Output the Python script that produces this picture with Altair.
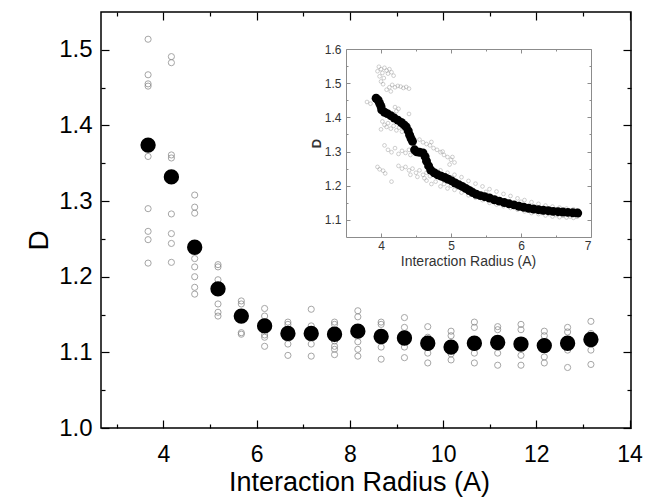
import altair as alt
import pandas as pd

# ---------------- data ----------------
main_x = [3.67, 4.17, 4.67, 5.17, 5.67, 6.17, 6.67, 7.17, 7.67, 8.17,
          8.67, 9.17, 9.67, 10.17, 10.67, 11.17, 11.67, 12.17, 12.67, 13.17]
main_mean = [1.374, 1.332, 1.239, 1.184, 1.148, 1.135, 1.125, 1.125, 1.124, 1.128,
             1.121, 1.119, 1.112, 1.107, 1.112, 1.113, 1.111, 1.109, 1.112, 1.117]
main_open = [
    [1.514, 1.467, 1.455, 1.452, 1.359, 1.290, 1.260, 1.249, 1.218],
    [1.491, 1.483, 1.361, 1.357, 1.283, 1.257, 1.244, 1.219],
    [1.308, 1.292, 1.284, 1.224, 1.213, 1.200, 1.186, 1.177],
    [1.216, 1.213, 1.196, 1.164, 1.153, 1.148],
    [1.168, 1.164, 1.126, 1.124],
    [1.158, 1.148, 1.123, 1.120, 1.108],
    [1.140, 1.137, 1.130, 1.111, 1.096],
    [1.157, 1.135, 1.111, 1.095],
    [1.140, 1.137, 1.115, 1.108, 1.104, 1.097],
    [1.155, 1.147, 1.114, 1.104, 1.095],
    [1.140, 1.137, 1.107, 1.091],
    [1.146, 1.133, 1.107, 1.093],
    [1.134, 1.120, 1.099, 1.086],
    [1.128, 1.122, 1.098, 1.090],
    [1.140, 1.133, 1.099, 1.086],
    [1.134, 1.130, 1.099, 1.083],
    [1.137, 1.130, 1.096, 1.083],
    [1.128, 1.122, 1.094, 1.086],
    [1.133, 1.127, 1.103, 1.080],
    [1.141, 1.125, 1.103, 1.084],
]

inset_mean_x = [3.93, 3.96, 3.98, 4.00, 4.01, 4.05, 4.09, 4.14, 4.19, 4.24, 4.29, 4.33, 4.36,
                4.39, 4.41, 4.43, 4.45, 4.48, 4.51, 4.55, 4.60, 4.63, 4.65, 4.68, 4.71, 4.76,
                4.81, 4.86, 4.91, 4.96, 5.01, 5.06, 5.11, 5.16, 5.21, 5.26, 5.31, 5.36, 5.42,
                5.48, 5.55, 5.62, 5.69, 5.76, 5.83, 5.90, 5.97, 6.04, 6.11, 6.18, 6.25, 6.32,
                6.39, 6.46, 6.53, 6.60, 6.67, 6.74, 6.81]
inset_mean_y = [1.456, 1.450, 1.441, 1.432, 1.422, 1.415, 1.411, 1.405, 1.398, 1.392, 1.385,
                1.378, 1.372, 1.360, 1.348, 1.338, 1.330, 1.305, 1.299, 1.298, 1.296, 1.285,
                1.272, 1.258, 1.246, 1.238, 1.232, 1.228, 1.224, 1.219, 1.214, 1.208, 1.203,
                1.198, 1.192, 1.186, 1.180, 1.175, 1.171, 1.168, 1.164, 1.159, 1.155, 1.151,
                1.147, 1.144, 1.140, 1.137, 1.134, 1.132, 1.130, 1.128, 1.127, 1.125, 1.124,
                1.123, 1.122, 1.121, 1.120]

inset_open_x = [
    3.95, 3.97, 4.00, 4.02, 4.05, 4.08, 4.10, 4.12, 4.15, 3.98, 4.04, 4.18, 4.00,
    4.08, 4.12, 4.16, 4.20, 4.24, 4.28, 4.32, 4.36, 4.40, 4.14, 4.03,
    4.20, 4.25, 4.22, 3.80, 3.85, 4.40,
    4.02, 4.05, 4.08, 4.10, 4.14, 4.18, 4.22, 4.26, 4.30, 4.34, 4.38, 4.00,
    4.55, 4.60, 4.65, 4.70, 4.75, 4.80, 4.85, 4.90, 4.95, 5.00, 5.05, 4.72, 4.88, 5.02, 4.98,
    4.10, 4.15, 4.20, 4.25, 4.30, 4.35, 4.42, 4.40, 4.48, 4.05,
    3.95, 3.98, 4.03, 4.06, 4.15,
    4.25, 4.30, 4.35, 4.40, 4.45, 4.50, 4.55, 4.60, 4.65, 4.42, 4.52, 4.62, 4.70,
    4.65, 4.72, 4.78, 4.85, 4.90, 4.95, 5.00, 5.05, 5.10, 5.15, 5.20, 5.25, 5.30, 5.35,
    5.40, 5.45, 5.50, 5.55, 5.60, 5.65, 5.70, 5.75, 5.80, 5.85, 5.90, 5.95, 6.00, 6.05,
    6.10, 6.15, 6.20, 6.25, 6.30, 6.35, 6.40, 6.45, 6.50, 6.55, 6.60, 6.65, 6.70, 6.75,
    6.80, 4.90, 5.10, 5.30,
    4.85, 4.95, 5.05, 5.15, 5.25, 5.35, 5.45, 5.55, 5.65, 5.75, 5.85, 5.95, 6.05, 6.15,
    6.25, 6.35, 6.45, 6.55, 6.65, 6.75, 6.80, 5.00, 5.50, 6.00, 6.50,
]
inset_open_y = [
    1.535, 1.548, 1.541, 1.530, 1.545, 1.537, 1.528, 1.541, 1.532, 1.520, 1.515, 1.522, 1.505,
    1.481, 1.488, 1.495, 1.488, 1.492, 1.490, 1.486, 1.489, 1.484, 1.476, 1.497,
    1.430, 1.425, 1.418, 1.445, 1.440, 1.410,
    1.388, 1.378, 1.372, 1.383, 1.367, 1.375, 1.362, 1.370, 1.358, 1.366, 1.378, 1.365,
    1.335, 1.327, 1.322, 1.318, 1.310, 1.305, 1.298, 1.290, 1.284, 1.276, 1.268, 1.328, 1.300, 1.284, 1.262,
    1.305, 1.298, 1.310, 1.293, 1.302, 1.296, 1.290, 1.305, 1.312, 1.318,
    1.255, 1.248, 1.244, 1.236, 1.212,
    1.258, 1.250, 1.255, 1.245, 1.250, 1.238, 1.245, 1.232, 1.238, 1.232, 1.226, 1.222, 1.228,
    1.215, 1.205, 1.212, 1.198, 1.205, 1.192, 1.200, 1.188, 1.194, 1.180, 1.186, 1.172, 1.178, 1.165,
    1.170, 1.158, 1.162, 1.150, 1.155, 1.145, 1.150, 1.140, 1.145, 1.135, 1.138, 1.130, 1.134, 1.125,
    1.130, 1.120, 1.125, 1.117, 1.120, 1.113, 1.117, 1.110, 1.114, 1.108, 1.112, 1.107, 1.110, 1.106,
    1.109, 1.215, 1.205, 1.190,
    1.245, 1.238, 1.232, 1.225, 1.214, 1.206, 1.198, 1.190, 1.183, 1.176, 1.170, 1.163, 1.158, 1.152,
    1.147, 1.142, 1.139, 1.136, 1.133, 1.131, 1.128, 1.225, 1.182, 1.153, 1.131,
]

# axis domains and tick values
main_x_domain = [2.66, 14.03]
main_y_domain = [1.0, 1.55]
main_x_labels = [4, 6, 8, 10, 12, 14]
main_x_minor = [3, 5, 7, 9, 11, 13]
main_y_labels = [1.0, 1.1, 1.2, 1.3, 1.4, 1.5]
main_y_minor = [1.05, 1.15, 1.25, 1.35, 1.45]
ins_x_domain = [3.5, 7.0]
ins_y_domain = [1.05, 1.6]
ins_x_labels = [4, 5, 6, 7]
ins_x_minor = [4.5, 5.5, 6.5]
ins_y_labels = [1.1, 1.2, 1.3, 1.4, 1.5, 1.6]
ins_y_minor = [1.1, 1.15, 1.2, 1.25, 1.3, 1.35, 1.4, 1.45, 1.5, 1.55]

# ---------------- layout ----------------
W, H = 530, 416
INS_LEFT, INS_RIGHT, INS_TOP, INS_BOTTOM = 245, 490, 37, 225
FONT = "Liberation Sans"

open_rows = [{"x": xv, "D": d} for xv, grp in zip(main_x, main_open) for d in grp]
df_open = pd.DataFrame(open_rows)
df_mean = pd.DataFrame({"x": main_x, "D": main_mean})
df_iopen = pd.DataFrame({"x": inset_open_x, "D": inset_open_y})
df_imean = pd.DataFrame({"x": inset_mean_x, "D": inset_mean_y})


def mx():
    return alt.Scale(domain=main_x_domain, nice=False, zero=False)


def my():
    return alt.Scale(domain=main_y_domain, nice=False, zero=False)


def ix():
    return alt.Scale(domain=ins_x_domain, range=[INS_LEFT, INS_RIGHT], nice=False, zero=False)


def iy():
    return alt.Scale(domain=ins_y_domain, range=[INS_BOTTOM, INS_TOP], nice=False, zero=False)


def tick_axis(orient, offset, size, values, color="black", width=1.2):
    return alt.Axis(orient=orient, offset=offset, tickSize=size, values=values,
                    labels=False, domain=False, ticks=True, grid=False, title=None,
                    tickColor=color, tickWidth=width)


def axis_layer(data, xs, ys, xaxis, yaxis):
    return alt.Chart(data).mark_point(opacity=0).encode(
        x=alt.X("x:Q", scale=xs, axis=xaxis),
        y=alt.Y("D:Q", scale=ys, axis=yaxis),
    )


# main open circles with labelled axes
main_open_layer = alt.Chart(df_open).mark_point(
    shape="circle", filled=False, size=38, stroke="#808080", strokeWidth=1
).encode(
    x=alt.X("x:Q", scale=mx(), axis=alt.Axis(
        orient="bottom", values=main_x_labels, format="d", ticks=False, domain=False,
        grid=False, labelFontSize=23, labelFont=FONT, labelColor="black", labelPadding=15,
        title="Interaction Radius (A)", titleFont=FONT, titleFontSize=27,
        titleFontWeight="normal", titleColor="black", titleX=258, titleY=62,
        titleAlign="center", titleBaseline="alphabetic")),
    y=alt.Y("D:Q", scale=my(), axis=alt.Axis(
        orient="left", values=main_y_labels, format=".1f", ticks=False, domain=False,
        grid=False, labelFontSize=24, labelFont=FONT, labelColor="black", labelPadding=9,
        title="D", titleFont=FONT, titleFontSize=28, titleFontWeight="normal",
        titleColor="black", titleX=-62, titleY=228, titleAngle=270,
        titleAlign="center", titleBaseline="middle")),
)

main_mean_layer = alt.Chart(df_mean).mark_point(
    shape="circle", filled=True, size=235, color="black", opacity=1
).encode(
    x=alt.X("x:Q", scale=mx(), axis=None),
    y=alt.Y("D:Q", scale=my(), axis=None),
)

main_ticks = [
    axis_layer(df_mean, mx(), my(), tick_axis("bottom", -8, 8, main_x_labels),
               tick_axis("left", -8, 8, main_y_labels)),
    axis_layer(df_mean, mx(), my(), tick_axis("bottom", -4, 4, main_x_minor),
               tick_axis("left", -4, 4, main_y_minor)),
    axis_layer(df_mean, mx(), my(), tick_axis("top", -8, 8, main_x_labels),
               tick_axis("right", -8, 8, main_y_labels)),
    axis_layer(df_mean, mx(), my(), tick_axis("top", -4, 4, main_x_minor),
               tick_axis("right", -4, 4, main_y_minor)),
]

GRAY = "#8c8c8c"
ins_open_layer = alt.Chart(df_iopen).mark_point(
    shape="circle", filled=False, size=14, stroke="#8f8f8f", strokeWidth=0.6
).encode(
    x=alt.X("x:Q", scale=ix(), axis=alt.Axis(
        orient="bottom", offset=-(H - INS_BOTTOM), values=ins_x_labels, format="d",
        ticks=False, domain=True, domainColor=GRAY, domainWidth=1, grid=False,
        labelFontSize=12, labelFont=FONT, labelColor="#333333", labelPadding=3,
        title="Interaction Radius (A)", titleFont=FONT, titleFontSize=14,
        titleFontWeight="normal", titleColor="#333333", titleX=367, titleY=28,
        titleAlign="center", titleBaseline="alphabetic")),
    y=alt.Y("D:Q", scale=iy(), axis=alt.Axis(
        orient="left", offset=-INS_LEFT, values=ins_y_labels, format=".1f",
        ticks=False, domain=True, domainColor=GRAY, domainWidth=1, grid=False,
        labelFontSize=12, labelFont=FONT, labelColor="#333333", labelPadding=5,
        title="D", titleFont=FONT, titleFontSize=13, titleFontWeight="bold",
        titleColor="#333333", titleX=-30, titleY=131, titleAngle=270,
        titleAlign="center", titleBaseline="middle")),
)

ins_mean_layer = alt.Chart(df_imean).mark_point(
    shape="circle", filled=True, size=80, color="black", opacity=1
).encode(
    x=alt.X("x:Q", scale=ix(), axis=None),
    y=alt.Y("D:Q", scale=iy(), axis=None),
)

ib = H - INS_BOTTOM
ins_frame = [
    axis_layer(df_imean, ix(), iy(),
               tick_axis("bottom", -(ib + 4), 4, ins_x_labels, GRAY, 1),
               tick_axis("left", -(INS_LEFT + 4), 4, ins_y_labels, GRAY, 1)),
    axis_layer(df_imean, ix(), iy(),
               tick_axis("bottom", -(ib + 2), 2, ins_x_minor, GRAY, 1),
               tick_axis("left", -(INS_LEFT + 2), 2, ins_y_minor, GRAY, 1)),
    axis_layer(df_imean, ix(), iy(),
               alt.Axis(orient="top", offset=-INS_TOP, labels=False, ticks=False, domain=True,
                        domainColor=GRAY, domainWidth=1, grid=False, title=None),
               alt.Axis(orient="right", offset=INS_RIGHT - W, labels=False, ticks=False,
                        domain=True, domainColor=GRAY, domainWidth=1, grid=False, title=None)),
    axis_layer(df_imean, ix(), iy(),
               tick_axis("top", -(INS_TOP + 4), 4, ins_x_labels, GRAY, 1),
               tick_axis("right", INS_RIGHT - W - 4, 4, ins_y_labels, GRAY, 1)),
    axis_layer(df_imean, ix(), iy(),
               tick_axis("top", -(INS_TOP + 2), 2, ins_x_minor, GRAY, 1),
               tick_axis("right", INS_RIGHT - W - 2, 2, ins_y_minor, GRAY, 1)),
]

chart = alt.layer(
    main_open_layer, main_mean_layer, *main_ticks,
    ins_open_layer, ins_mean_layer, *ins_frame,
).resolve_scale(x="independent", y="independent").properties(
    width=W, height=H,
    padding={"left": 101, "top": 12, "right": 16, "bottom": 69},
    autosize=alt.AutoSizeParams(type="none"),
    background="white",
).configure_view(stroke="black", strokeWidth=1.5)

chart.save("out.html", embed_options={"renderer": "svg", "actions": False})
